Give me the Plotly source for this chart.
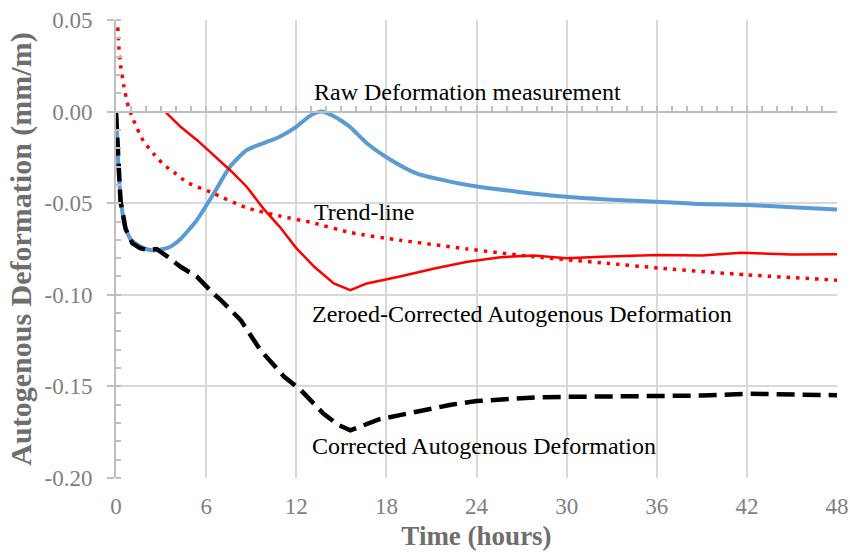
import plotly.graph_objects as go

# ---------------- data ----------------
raw_x = [0, 0.1, 0.2, 0.35, 0.6, 1.0, 1.5, 2.0, 2.5, 3.0, 3.5, 4.3, 5.4, 6.5, 7.6,
         8.7, 9.8, 10.9, 12.0, 13.0, 13.7, 14.5, 15.0, 15.6, 16.7, 18.3, 20.0, 23.4,
         26.7, 30.0, 34.5, 36.0, 38.9, 42.0, 45.0, 48.0]
raw_y = [0, -0.020, -0.036, -0.050, -0.063, -0.070, -0.073, -0.075, -0.0758, -0.0752,
         -0.0742, -0.0695, -0.0590, -0.0448, -0.030, -0.021, -0.0173, -0.0137, -0.0083,
         -0.0018, 0.0, -0.0025, -0.0050, -0.0085, -0.0173, -0.0264, -0.0337, -0.0401,
         -0.0437, -0.0465, -0.0487, -0.0492, -0.0505, -0.0510, -0.0522, -0.0534]

corr_x = [0, 0.13, 0.3, 0.64, 1.1, 1.6, 2.1, 2.7, 3.0, 3.4, 4.3, 5.4, 6.5, 7.0, 8.3,
          9.6, 11.2, 12.3, 13.8, 14.8, 15.6, 16.5, 17.5, 18.9, 20.5, 22.3, 24.0,
          25.6, 28.0, 30.0, 33.0, 36.0, 39.0, 42.0, 45.0, 48.0]
corr_y = [0, -0.023, -0.049, -0.064, -0.072, -0.0745, -0.0755, -0.075, -0.077, -0.079,
          -0.0847, -0.0902, -0.0995, -0.103, -0.1138, -0.130, -0.1448, -0.152, -0.1648,
          -0.171, -0.174, -0.171, -0.168, -0.1657, -0.163, -0.160, -0.158, -0.157,
          -0.156, -0.1557, -0.1555, -0.155, -0.155, -0.154, -0.1545, -0.1548]

zero_x = [3.27, 3.4, 4.3, 5.4, 6.5, 7.6, 8.7, 9.8, 10.9, 12.0, 13.2, 14.5, 15.6, 16.7,
          18.9, 21.2, 23.4, 25.6, 27.8, 30.0, 32.3, 36.0, 39.0, 41.6, 45.0, 48.0]
zero_y = [0.0, -0.001, -0.0083, -0.0156, -0.0237, -0.032, -0.041, -0.0528, -0.0629,
          -0.0745, -0.0847, -0.0938, -0.0974, -0.0938, -0.090, -0.0856, -0.082, -0.0795,
          -0.0785, -0.080, -0.0792, -0.0783, -0.0785, -0.0771, -0.0780, -0.0778]

trend_x = [0.12, 0.2, 0.31, 0.53, 0.82, 1.16, 1.82, 2.5, 3.16, 4.0, 4.71, 6.3, 8.7,
           10.9, 13.0, 15.6, 18.9, 23.4, 27.8, 32.3, 36.4, 42.0, 48.0]
trend_y = [0.046, 0.034, 0.025, 0.0136, 0.0027, -0.0046, -0.016, -0.023, -0.0288,
           -0.034, -0.0385, -0.044, -0.0525, -0.057, -0.0605, -0.066, -0.0702, -0.0750,
           -0.0792, -0.0825, -0.0856, -0.0891, -0.092]

x_ticks = [0, 6, 12, 18, 24, 30, 36, 42, 48]
y_ticks = [0.05, 0.0, -0.05, -0.10, -0.15, -0.20]
y_tick_text = ["0.05", "0.00", "-0.05", "-0.10", "-0.15", "-0.20"]

labels = ["Raw Deformation measurement", "Trend-line",
          "Zeroed-Corrected Autogenous Deformation", "Corrected Autogenous Deformation"]
label_x = [13.07, 13.07, 12.93, 12.93]
label_y = [0.0107, -0.0548, -0.1105, -0.1826]

# ---------------- figure ----------------
SERIF = "Liberation Serif"
TICK_GRAY = "#7f7f7f"
TITLE_GRAY = "#6e6e6e"
GRID = "#d9d9d9"

fig = go.Figure()
fig.add_trace(go.Scatter(x=raw_x, y=raw_y, mode="lines",
                         line=dict(color="#5B9BD5", width=4, shape="spline", smoothing=0.6)))
fig.add_trace(go.Scatter(x=zero_x, y=zero_y, mode="lines",
                         line=dict(color="#FF0000", width=2.5)))
fig.add_trace(go.Scatter(x=corr_x, y=corr_y, mode="lines",
                         line=dict(color="#000000", width=4.5, dash="18px,8px")))
fig.add_trace(go.Scatter(x=trend_x, y=trend_y, mode="lines", xaxis="x2",
                         line=dict(color="#FF0000", width=3.5, dash="3.5px,6px",
                                   shape="spline", smoothing=0.6)))

for t, lx, ly in zip(labels, label_x, label_y):
    fig.add_annotation(x=lx, y=ly, text=t, showarrow=False, xanchor="left", yanchor="middle",
                       font=dict(family=SERIF, size=24, color="#000000"))

fig.update_layout(
    width=850, height=553, autosize=False,
    margin=dict(l=116, r=13, t=20, b=75),
    plot_bgcolor="white", paper_bgcolor="white",
    showlegend=False,
    xaxis=dict(range=[0, 48], tickvals=x_ticks, showgrid=True, gridcolor=GRID, gridwidth=1.5,
               zeroline=False, showline=False, ticks="", ticklabelstandoff=12, automargin=False,
               tickfont=dict(family=SERIF, size=23, color=TICK_GRAY),
               title=dict(text="<b>Time (hours)</b>", standoff=8,
                          font=dict(family=SERIF, size=27, color=TITLE_GRAY))),
    xaxis2=dict(range=[0, 48], overlaying="x", anchor="free", position=0.8, side="bottom",
                showgrid=False, zeroline=False, showline=True, linecolor="#bfbfbf", linewidth=1.5,
                ticks="inside", dtick=1, tick0=0, ticklen=5, tickcolor="#bfbfbf", tickwidth=1.5,
                showticklabels=False, automargin=False),
    yaxis=dict(range=[-0.20, 0.05], tickvals=y_ticks, ticktext=y_tick_text, automargin=False,
               showgrid=True, gridcolor=GRID, gridwidth=1.5, zeroline=False,
               showline=True, linecolor="#bfbfbf", linewidth=2,
               ticks="outside", ticklen=7, tickcolor="#bfbfbf", tickwidth=1.5,
               ticklabelstandoff=10,
               minor=dict(dtick=0.01, ticks="inside", ticklen=5, tickcolor="#bfbfbf",
                          tickwidth=1.5, showgrid=False),
               tickfont=dict(family=SERIF, size=23, color=TICK_GRAY),
               title=dict(text="<b>Autogenous Deformation (mm/m)</b>", standoff=4,
                          font=dict(family=SERIF, size=30, color=TITLE_GRAY))),
)

fig.write_html("out.html")
